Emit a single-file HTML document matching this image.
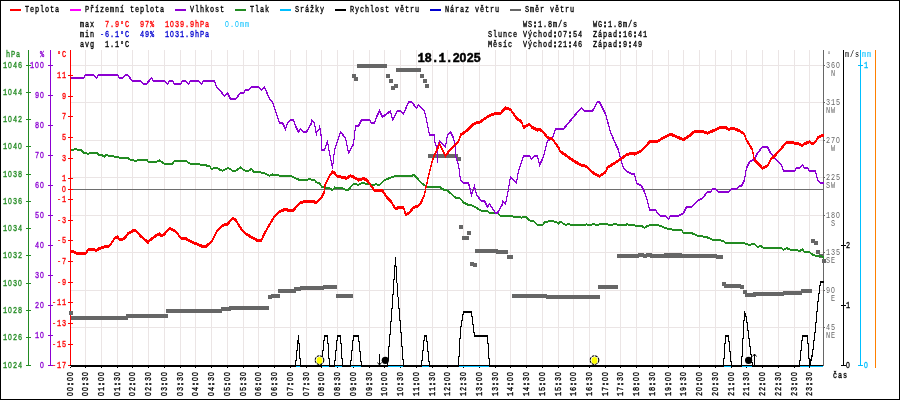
<!DOCTYPE html>
<html><head><meta charset="utf-8"><style>
html,body{margin:0;padding:0;background:#fff;}
svg{display:block;}
text{font-family:"Liberation Mono","DejaVu Sans Mono",monospace;}
</style></head><body>
<svg width="900" height="400" viewBox="0 0 900 400">
<rect x="0.5" y="0.5" width="899" height="399" fill="#fff" stroke="#000" stroke-width="1"/>
<rect x="85" y="50" width="1" height="315" fill="#ebe5e5"/>
<rect x="101" y="50" width="1" height="315" fill="#ebe5e5"/>
<rect x="117" y="50" width="1" height="315" fill="#ebe5e5"/>
<rect x="132" y="50" width="1" height="315" fill="#ebe5e5"/>
<rect x="148" y="50" width="1" height="315" fill="#ebe5e5"/>
<rect x="164" y="50" width="1" height="315" fill="#ebe5e5"/>
<rect x="180" y="50" width="1" height="315" fill="#ebe5e5"/>
<rect x="195" y="50" width="1" height="315" fill="#ebe5e5"/>
<rect x="211" y="50" width="1" height="315" fill="#ebe5e5"/>
<rect x="227" y="50" width="1" height="315" fill="#ebe5e5"/>
<rect x="243" y="50" width="1" height="315" fill="#ebe5e5"/>
<rect x="258" y="50" width="1" height="315" fill="#ebe5e5"/>
<rect x="274" y="50" width="1" height="315" fill="#ebe5e5"/>
<rect x="290" y="50" width="1" height="315" fill="#ebe5e5"/>
<rect x="306" y="50" width="1" height="315" fill="#ebe5e5"/>
<rect x="321" y="50" width="1" height="315" fill="#ebe5e5"/>
<rect x="337" y="50" width="1" height="315" fill="#ebe5e5"/>
<rect x="353" y="50" width="1" height="315" fill="#ebe5e5"/>
<rect x="369" y="50" width="1" height="315" fill="#ebe5e5"/>
<rect x="384" y="50" width="1" height="315" fill="#ebe5e5"/>
<rect x="400" y="50" width="1" height="315" fill="#ebe5e5"/>
<rect x="416" y="50" width="1" height="315" fill="#ebe5e5"/>
<rect x="432" y="50" width="1" height="315" fill="#ebe5e5"/>
<rect x="447" y="50" width="1" height="315" fill="#ebe5e5"/>
<rect x="463" y="50" width="1" height="315" fill="#ebe5e5"/>
<rect x="479" y="50" width="1" height="315" fill="#ebe5e5"/>
<rect x="495" y="50" width="1" height="315" fill="#ebe5e5"/>
<rect x="510" y="50" width="1" height="315" fill="#ebe5e5"/>
<rect x="526" y="50" width="1" height="315" fill="#ebe5e5"/>
<rect x="542" y="50" width="1" height="315" fill="#ebe5e5"/>
<rect x="558" y="50" width="1" height="315" fill="#ebe5e5"/>
<rect x="573" y="50" width="1" height="315" fill="#ebe5e5"/>
<rect x="589" y="50" width="1" height="315" fill="#ebe5e5"/>
<rect x="605" y="50" width="1" height="315" fill="#ebe5e5"/>
<rect x="620" y="50" width="1" height="315" fill="#ebe5e5"/>
<rect x="636" y="50" width="1" height="315" fill="#ebe5e5"/>
<rect x="652" y="50" width="1" height="315" fill="#ebe5e5"/>
<rect x="668" y="50" width="1" height="315" fill="#ebe5e5"/>
<rect x="683" y="50" width="1" height="315" fill="#ebe5e5"/>
<rect x="699" y="50" width="1" height="315" fill="#ebe5e5"/>
<rect x="715" y="50" width="1" height="315" fill="#ebe5e5"/>
<rect x="731" y="50" width="1" height="315" fill="#ebe5e5"/>
<rect x="746" y="50" width="1" height="315" fill="#ebe5e5"/>
<rect x="762" y="50" width="1" height="315" fill="#ebe5e5"/>
<rect x="778" y="50" width="1" height="315" fill="#ebe5e5"/>
<rect x="794" y="50" width="1" height="315" fill="#ebe5e5"/>
<rect x="809" y="50" width="1" height="315" fill="#ebe5e5"/>
<rect x="71" y="65" width="752" height="1" fill="#ebe5e5"/>
<rect x="71" y="102" width="752" height="1" fill="#ebe5e5"/>
<rect x="71" y="140" width="752" height="1" fill="#ebe5e5"/>
<rect x="71" y="177" width="752" height="1" fill="#ebe5e5"/>
<rect x="71" y="215" width="752" height="1" fill="#ebe5e5"/>
<rect x="71" y="252" width="752" height="1" fill="#ebe5e5"/>
<rect x="71" y="290" width="752" height="1" fill="#ebe5e5"/>
<rect x="71" y="327" width="752" height="1" fill="#ebe5e5"/>
<rect x="71" y="189" width="752" height="1" fill="#6e6e6e"/>
<rect x="10" y="9" width="11" height="2" fill="#ff0000"/>
<text transform="translate(25,12) scale(0.76,1)" x="0.00 6.58 13.16 19.74 26.32 32.89 39.47" y="0" fill="#000" stroke="#000" stroke-width="0.35" font-size="9">Teplota</text>
<rect x="70" y="9" width="11" height="2" fill="#ff00ff"/>
<text transform="translate(85,12) scale(0.76,1)" x="0.00 6.58 13.16 19.74 26.32 32.89 39.47 46.05 52.63 59.21 65.79 72.37 78.95 85.53 92.11 98.68" y="0" fill="#000" stroke="#000" stroke-width="0.35" font-size="9">Přízemní teplota</text>
<rect x="175" y="9" width="11" height="2" fill="#8c00d2"/>
<text transform="translate(190,12) scale(0.76,1)" x="0.00 6.58 13.16 19.74 26.32 32.89 39.47" y="0" fill="#000" stroke="#000" stroke-width="0.35" font-size="9">Vlhkost</text>
<rect x="235" y="9" width="11" height="2" fill="#228b22"/>
<text transform="translate(250,12) scale(0.76,1)" x="0.00 6.58 13.16 19.74" y="0" fill="#000" stroke="#000" stroke-width="0.35" font-size="9">Tlak</text>
<rect x="280" y="9" width="11" height="2" fill="#00bfff"/>
<text transform="translate(295,12) scale(0.76,1)" x="0.00 6.58 13.16 19.74 26.32 32.89" y="0" fill="#000" stroke="#000" stroke-width="0.35" font-size="9">Srážky</text>
<rect x="335" y="9" width="11" height="2" fill="#000"/>
<text transform="translate(350,12) scale(0.76,1)" x="0.00 6.58 13.16 19.74 26.32 32.89 39.47 46.05 52.63 59.21 65.79 72.37 78.95 85.53" y="0" fill="#000" stroke="#000" stroke-width="0.35" font-size="9">Rychlost větru</text>
<rect x="430" y="9" width="11" height="2" fill="#0000d0"/>
<text transform="translate(445,12) scale(0.76,1)" x="0.00 6.58 13.16 19.74 26.32 32.89 39.47 46.05 52.63 59.21 65.79" y="0" fill="#000" stroke="#000" stroke-width="0.35" font-size="9">Náraz větru</text>
<rect x="510" y="9" width="11" height="2" fill="#666666"/>
<text transform="translate(525,12) scale(0.76,1)" x="0.00 6.58 13.16 19.74 26.32 32.89 39.47 46.05 52.63 59.21" y="0" fill="#000" stroke="#000" stroke-width="0.35" font-size="9">Směr větru</text>
<text transform="translate(80,27) scale(0.76,1)" x="0.00 6.58 13.16" y="0" fill="#000" stroke="#000" stroke-width="0.35" font-size="9">max</text>
<text transform="translate(105,27) scale(0.76,1)" x="0.00 6.58 13.16 19.74 26.32" y="0" fill="#ff0000" stroke="#ff0000" stroke-width="0.35" font-size="9">7.9°C</text>
<text transform="translate(140,27) scale(0.76,1)" x="0.00 6.58 13.16" y="0" fill="#ff0000" stroke="#ff0000" stroke-width="0.35" font-size="9">97%</text>
<text transform="translate(165,27) scale(0.76,1)" x="0.00 6.58 13.16 19.74 26.32 32.89 39.47 46.05 52.63" y="0" fill="#ff0000" stroke="#ff0000" stroke-width="0.35" font-size="9">1<tspan font-family="Liberation Sans, sans-serif">0</tspan>39.9hPa</text>
<text transform="translate(225,27) scale(0.76,1)" x="0.00 6.58 13.16 19.74 26.32" y="0" fill="#00bfff" font-size="9" font-weight="normal"><tspan font-family="Liberation Sans, sans-serif">0</tspan>.<tspan font-family="Liberation Sans, sans-serif">0</tspan>mm</text>
<text transform="translate(80,37) scale(0.76,1)" x="0.00 6.58 13.16" y="0" fill="#000" stroke="#000" stroke-width="0.35" font-size="9">min</text>
<text transform="translate(100,37) scale(0.76,1)" x="0.00 6.58 13.16 19.74 26.32 32.89" y="0" fill="#0000d0" stroke="#0000d0" stroke-width="0.35" font-size="9">-6.1°C</text>
<text transform="translate(140,37) scale(0.76,1)" x="0.00 6.58 13.16" y="0" fill="#0000d0" stroke="#0000d0" stroke-width="0.35" font-size="9">49%</text>
<text transform="translate(165,37) scale(0.76,1)" x="0.00 6.58 13.16 19.74 26.32 32.89 39.47 46.05 52.63" y="0" fill="#0000d0" stroke="#0000d0" stroke-width="0.35" font-size="9">1<tspan font-family="Liberation Sans, sans-serif">0</tspan>31.9hPa</text>
<text transform="translate(80,47) scale(0.76,1)" x="0.00 6.58 13.16" y="0" fill="#000" stroke="#000" stroke-width="0.35" font-size="9">avg</text>
<text transform="translate(105,47) scale(0.76,1)" x="0.00 6.58 13.16 19.74 26.32" y="0" fill="#000" stroke="#000" stroke-width="0.35" font-size="9">1.1°C</text>
<text transform="translate(523,27) scale(0.76,1)" x="0.00 6.58 13.16 19.74 26.32 32.89 39.47 46.05 52.63" y="0" fill="#000" stroke="#000" stroke-width="0.35" font-size="9">WS<tspan font-weight="bold" stroke-width="0.9">:</tspan>1.8m/s</text>
<text transform="translate(593,27) scale(0.76,1)" x="0.00 6.58 13.16 19.74 26.32 32.89 39.47 46.05 52.63" y="0" fill="#000" stroke="#000" stroke-width="0.35" font-size="9">WG<tspan font-weight="bold" stroke-width="0.9">:</tspan>1.8m/s</text>
<text transform="translate(488,37) scale(0.76,1)" x="0.00 6.58 13.16 19.74 26.32 32.89" y="0" fill="#000" stroke="#000" stroke-width="0.35" font-size="9">Slunce</text>
<text transform="translate(523,37) scale(0.76,1)" x="0.00 6.58 13.16 19.74 26.32 32.89 39.47 46.05 52.63 59.21 65.79 72.37" y="0" fill="#000" stroke="#000" stroke-width="0.35" font-size="9">Východ<tspan font-weight="bold" stroke-width="0.9">:</tspan><tspan font-family="Liberation Sans, sans-serif">0</tspan>7<tspan font-weight="bold" stroke-width="0.9">:</tspan>54</text>
<text transform="translate(593,37) scale(0.76,1)" x="0.00 6.58 13.16 19.74 26.32 32.89 39.47 46.05 52.63 59.21 65.79" y="0" fill="#000" stroke="#000" stroke-width="0.35" font-size="9">Západ<tspan font-weight="bold" stroke-width="0.9">:</tspan>16<tspan font-weight="bold" stroke-width="0.9">:</tspan>41</text>
<text transform="translate(488,47) scale(0.76,1)" x="0.00 6.58 13.16 19.74 26.32" y="0" fill="#000" stroke="#000" stroke-width="0.35" font-size="9">Měsíc</text>
<text transform="translate(523,47) scale(0.76,1)" x="0.00 6.58 13.16 19.74 26.32 32.89 39.47 46.05 52.63 59.21 65.79 72.37" y="0" fill="#000" stroke="#000" stroke-width="0.35" font-size="9">Východ<tspan font-weight="bold" stroke-width="0.9">:</tspan>21<tspan font-weight="bold" stroke-width="0.9">:</tspan>46</text>
<text transform="translate(593,47) scale(0.76,1)" x="0.00 6.58 13.16 19.74 26.32 32.89 39.47 46.05 52.63 59.21" y="0" fill="#000" stroke="#000" stroke-width="0.35" font-size="9">Západ<tspan font-weight="bold" stroke-width="0.9">:</tspan>9<tspan font-weight="bold" stroke-width="0.9">:</tspan>49</text>
<text transform="translate(417.5,62) scale(0.95,1)" x="0.00 7.37 14.74 22.11 29.47 36.84 44.21 51.58 58.95" y="0" fill="#000" font-size="13" font-weight="bold" stroke="#000" stroke-width="0.5">18.1.2<tspan font-family="Liberation Sans, sans-serif">0</tspan>25</text>
<rect x="28" y="50" width="1" height="316" fill="#228b22"/>
<rect x="50" y="50" width="1" height="316" fill="#8c00d2"/>
<rect x="70" y="50" width="1" height="316" fill="#ff0000"/>
<text transform="translate(6,57) scale(0.76,1)" x="0.00 6.58 13.16" y="0" fill="#228b22" stroke="#228b22" stroke-width="0.35" font-size="9">hPa</text>
<text transform="translate(40,57) scale(0.76,1)" x="0.00" y="0" fill="#8c00d2" stroke="#8c00d2" stroke-width="0.35" font-size="9">%</text>
<text transform="translate(57,57) scale(0.76,1)" x="0.00 6.58" y="0" fill="#ff0000" stroke="#ff0000" stroke-width="0.35" font-size="9">°C</text>
<rect x="26" y="65" width="5" height="1" fill="#228b22"/>
<text transform="translate(3,68) scale(0.76,1)" x="0.00 6.58 13.16 19.74" y="0" fill="#228b22" stroke="#228b22" stroke-width="0.35" font-size="9">1<tspan font-family="Liberation Sans, sans-serif">0</tspan>46</text>
<rect x="26" y="92" width="5" height="1" fill="#228b22"/>
<text transform="translate(3,95) scale(0.76,1)" x="0.00 6.58 13.16 19.74" y="0" fill="#228b22" stroke="#228b22" stroke-width="0.35" font-size="9">1<tspan font-family="Liberation Sans, sans-serif">0</tspan>44</text>
<rect x="26" y="119" width="5" height="1" fill="#228b22"/>
<text transform="translate(3,122) scale(0.76,1)" x="0.00 6.58 13.16 19.74" y="0" fill="#228b22" stroke="#228b22" stroke-width="0.35" font-size="9">1<tspan font-family="Liberation Sans, sans-serif">0</tspan>42</text>
<rect x="26" y="146" width="5" height="1" fill="#228b22"/>
<text transform="translate(3,149) scale(0.76,1)" x="0.00 6.58 13.16 19.74" y="0" fill="#228b22" stroke="#228b22" stroke-width="0.35" font-size="9">1<tspan font-family="Liberation Sans, sans-serif">0</tspan>4<tspan font-family="Liberation Sans, sans-serif">0</tspan></text>
<rect x="26" y="174" width="5" height="1" fill="#228b22"/>
<text transform="translate(3,177) scale(0.76,1)" x="0.00 6.58 13.16 19.74" y="0" fill="#228b22" stroke="#228b22" stroke-width="0.35" font-size="9">1<tspan font-family="Liberation Sans, sans-serif">0</tspan>38</text>
<rect x="26" y="201" width="5" height="1" fill="#228b22"/>
<text transform="translate(3,204) scale(0.76,1)" x="0.00 6.58 13.16 19.74" y="0" fill="#228b22" stroke="#228b22" stroke-width="0.35" font-size="9">1<tspan font-family="Liberation Sans, sans-serif">0</tspan>36</text>
<rect x="26" y="228" width="5" height="1" fill="#228b22"/>
<text transform="translate(3,231) scale(0.76,1)" x="0.00 6.58 13.16 19.74" y="0" fill="#228b22" stroke="#228b22" stroke-width="0.35" font-size="9">1<tspan font-family="Liberation Sans, sans-serif">0</tspan>34</text>
<rect x="26" y="255" width="5" height="1" fill="#228b22"/>
<text transform="translate(3,258) scale(0.76,1)" x="0.00 6.58 13.16 19.74" y="0" fill="#228b22" stroke="#228b22" stroke-width="0.35" font-size="9">1<tspan font-family="Liberation Sans, sans-serif">0</tspan>32</text>
<rect x="26" y="283" width="5" height="1" fill="#228b22"/>
<text transform="translate(3,286) scale(0.76,1)" x="0.00 6.58 13.16 19.74" y="0" fill="#228b22" stroke="#228b22" stroke-width="0.35" font-size="9">1<tspan font-family="Liberation Sans, sans-serif">0</tspan>3<tspan font-family="Liberation Sans, sans-serif">0</tspan></text>
<rect x="26" y="310" width="5" height="1" fill="#228b22"/>
<text transform="translate(3,313) scale(0.76,1)" x="0.00 6.58 13.16 19.74" y="0" fill="#228b22" stroke="#228b22" stroke-width="0.35" font-size="9">1<tspan font-family="Liberation Sans, sans-serif">0</tspan>28</text>
<rect x="26" y="337" width="5" height="1" fill="#228b22"/>
<text transform="translate(3,340) scale(0.76,1)" x="0.00 6.58 13.16 19.74" y="0" fill="#228b22" stroke="#228b22" stroke-width="0.35" font-size="9">1<tspan font-family="Liberation Sans, sans-serif">0</tspan>26</text>
<rect x="26" y="365" width="5" height="1" fill="#228b22"/>
<text transform="translate(3,368) scale(0.76,1)" x="0.00 6.58 13.16 19.74" y="0" fill="#228b22" stroke="#228b22" stroke-width="0.35" font-size="9">1<tspan font-family="Liberation Sans, sans-serif">0</tspan>24</text>
<rect x="48" y="65" width="5" height="1" fill="#8c00d2"/>
<text transform="translate(30,68) scale(0.76,1)" x="0.00 6.58 13.16" y="0" fill="#8c00d2" stroke="#8c00d2" stroke-width="0.35" font-size="9">1<tspan font-family="Liberation Sans, sans-serif">0</tspan><tspan font-family="Liberation Sans, sans-serif">0</tspan></text>
<rect x="48" y="95" width="5" height="1" fill="#8c00d2"/>
<text transform="translate(35,98) scale(0.76,1)" x="0.00 6.58" y="0" fill="#8c00d2" stroke="#8c00d2" stroke-width="0.35" font-size="9">9<tspan font-family="Liberation Sans, sans-serif">0</tspan></text>
<rect x="48" y="125" width="5" height="1" fill="#8c00d2"/>
<text transform="translate(35,128) scale(0.76,1)" x="0.00 6.58" y="0" fill="#8c00d2" stroke="#8c00d2" stroke-width="0.35" font-size="9">8<tspan font-family="Liberation Sans, sans-serif">0</tspan></text>
<rect x="48" y="155" width="5" height="1" fill="#8c00d2"/>
<text transform="translate(35,158) scale(0.76,1)" x="0.00 6.58" y="0" fill="#8c00d2" stroke="#8c00d2" stroke-width="0.35" font-size="9">7<tspan font-family="Liberation Sans, sans-serif">0</tspan></text>
<rect x="48" y="185" width="5" height="1" fill="#8c00d2"/>
<text transform="translate(35,188) scale(0.76,1)" x="0.00 6.58" y="0" fill="#8c00d2" stroke="#8c00d2" stroke-width="0.35" font-size="9">6<tspan font-family="Liberation Sans, sans-serif">0</tspan></text>
<rect x="48" y="215" width="5" height="1" fill="#8c00d2"/>
<text transform="translate(35,218) scale(0.76,1)" x="0.00 6.58" y="0" fill="#8c00d2" stroke="#8c00d2" stroke-width="0.35" font-size="9">5<tspan font-family="Liberation Sans, sans-serif">0</tspan></text>
<rect x="48" y="245" width="5" height="1" fill="#8c00d2"/>
<text transform="translate(35,248) scale(0.76,1)" x="0.00 6.58" y="0" fill="#8c00d2" stroke="#8c00d2" stroke-width="0.35" font-size="9">4<tspan font-family="Liberation Sans, sans-serif">0</tspan></text>
<rect x="48" y="275" width="5" height="1" fill="#8c00d2"/>
<text transform="translate(35,278) scale(0.76,1)" x="0.00 6.58" y="0" fill="#8c00d2" stroke="#8c00d2" stroke-width="0.35" font-size="9">3<tspan font-family="Liberation Sans, sans-serif">0</tspan></text>
<rect x="48" y="305" width="5" height="1" fill="#8c00d2"/>
<text transform="translate(35,308) scale(0.76,1)" x="0.00 6.58" y="0" fill="#8c00d2" stroke="#8c00d2" stroke-width="0.35" font-size="9">2<tspan font-family="Liberation Sans, sans-serif">0</tspan></text>
<rect x="48" y="335" width="5" height="1" fill="#8c00d2"/>
<text transform="translate(35,338) scale(0.76,1)" x="0.00 6.58" y="0" fill="#8c00d2" stroke="#8c00d2" stroke-width="0.35" font-size="9">1<tspan font-family="Liberation Sans, sans-serif">0</tspan></text>
<rect x="48" y="365" width="5" height="1" fill="#8c00d2"/>
<text transform="translate(40,368) scale(0.76,1)" x="0.00" y="0" fill="#8c00d2" stroke="#8c00d2" stroke-width="0.35" font-size="9"><tspan font-family="Liberation Sans, sans-serif">0</tspan></text>
<rect x="68" y="75" width="5" height="1" fill="#ff0000"/>
<text transform="translate(57,78) scale(0.76,1)" x="0.00 6.58" y="0" fill="#ff0000" stroke="#ff0000" stroke-width="0.35" font-size="9">11</text>
<rect x="68" y="96" width="5" height="1" fill="#ff0000"/>
<text transform="translate(62,99) scale(0.76,1)" x="0.00" y="0" fill="#ff0000" stroke="#ff0000" stroke-width="0.35" font-size="9">9</text>
<rect x="68" y="116" width="5" height="1" fill="#ff0000"/>
<text transform="translate(62,119) scale(0.76,1)" x="0.00" y="0" fill="#ff0000" stroke="#ff0000" stroke-width="0.35" font-size="9">7</text>
<rect x="68" y="137" width="5" height="1" fill="#ff0000"/>
<text transform="translate(62,140) scale(0.76,1)" x="0.00" y="0" fill="#ff0000" stroke="#ff0000" stroke-width="0.35" font-size="9">5</text>
<rect x="68" y="158" width="5" height="1" fill="#ff0000"/>
<text transform="translate(62,161) scale(0.76,1)" x="0.00" y="0" fill="#ff0000" stroke="#ff0000" stroke-width="0.35" font-size="9">3</text>
<rect x="68" y="178" width="5" height="1" fill="#ff0000"/>
<text transform="translate(62,181) scale(0.76,1)" x="0.00" y="0" fill="#ff0000" stroke="#ff0000" stroke-width="0.35" font-size="9">1</text>
<rect x="68" y="189" width="5" height="1" fill="#ff0000"/>
<text transform="translate(62,192) scale(0.76,1)" x="0.00" y="0" fill="#ff0000" stroke="#ff0000" stroke-width="0.35" font-size="9"><tspan font-family="Liberation Sans, sans-serif">0</tspan></text>
<rect x="68" y="199" width="5" height="1" fill="#ff0000"/>
<text transform="translate(57,202) scale(0.76,1)" x="0.00 6.58" y="0" fill="#ff0000" stroke="#ff0000" stroke-width="0.35" font-size="9">-1</text>
<rect x="68" y="220" width="5" height="1" fill="#ff0000"/>
<text transform="translate(57,223) scale(0.76,1)" x="0.00 6.58" y="0" fill="#ff0000" stroke="#ff0000" stroke-width="0.35" font-size="9">-3</text>
<rect x="68" y="240" width="5" height="1" fill="#ff0000"/>
<text transform="translate(57,243) scale(0.76,1)" x="0.00 6.58" y="0" fill="#ff0000" stroke="#ff0000" stroke-width="0.35" font-size="9">-5</text>
<rect x="68" y="261" width="5" height="1" fill="#ff0000"/>
<text transform="translate(57,264) scale(0.76,1)" x="0.00 6.58" y="0" fill="#ff0000" stroke="#ff0000" stroke-width="0.35" font-size="9">-7</text>
<rect x="68" y="282" width="5" height="1" fill="#ff0000"/>
<text transform="translate(57,285) scale(0.76,1)" x="0.00 6.58" y="0" fill="#ff0000" stroke="#ff0000" stroke-width="0.35" font-size="9">-9</text>
<rect x="68" y="302" width="5" height="1" fill="#ff0000"/>
<text transform="translate(52,305) scale(0.76,1)" x="0.00 6.58 13.16" y="0" fill="#ff0000" stroke="#ff0000" stroke-width="0.35" font-size="9">-11</text>
<rect x="68" y="323" width="5" height="1" fill="#ff0000"/>
<text transform="translate(52,326) scale(0.76,1)" x="0.00 6.58 13.16" y="0" fill="#ff0000" stroke="#ff0000" stroke-width="0.35" font-size="9">-13</text>
<rect x="68" y="344" width="5" height="1" fill="#ff0000"/>
<text transform="translate(52,347) scale(0.76,1)" x="0.00 6.58 13.16" y="0" fill="#ff0000" stroke="#ff0000" stroke-width="0.35" font-size="9">-15</text>
<rect x="68" y="365" width="5" height="1" fill="#ff0000"/>
<text transform="translate(52,368) scale(0.76,1)" x="0.00 6.58 13.16" y="0" fill="#ff0000" stroke="#ff0000" stroke-width="0.35" font-size="9">-17</text>
<rect x="823" y="50" width="1" height="316" fill="#666666"/>
<rect x="843" y="50" width="1" height="316" fill="#000"/>
<rect x="860" y="50" width="1" height="316" fill="#00bfff"/>
<rect x="875" y="50" width="1" height="318" fill="#ff8000"/>
<text transform="translate(827,57) scale(0.76,1)" x="0.00" y="0" fill="#666666" font-size="9" font-weight="normal">°</text>
<rect x="824" y="65" width="1" height="1" fill="#666666"/>
<text transform="translate(826,68) scale(0.76,1)" x="0.00 6.58 13.16" y="0" fill="#666666" font-size="9" font-weight="normal">36<tspan font-family="Liberation Sans, sans-serif">0</tspan></text>
<text transform="translate(831,76) scale(0.76,1)" x="0.00" y="0" fill="#666666" font-size="9" font-weight="normal">N</text>
<rect x="824" y="102" width="1" height="1" fill="#666666"/>
<text transform="translate(826,105) scale(0.76,1)" x="0.00 6.58 13.16" y="0" fill="#666666" font-size="9" font-weight="normal">315</text>
<text transform="translate(826,113) scale(0.76,1)" x="0.00 6.58" y="0" fill="#666666" font-size="9" font-weight="normal">NW</text>
<rect x="824" y="140" width="1" height="1" fill="#666666"/>
<text transform="translate(826,143) scale(0.76,1)" x="0.00 6.58 13.16" y="0" fill="#666666" font-size="9" font-weight="normal">27<tspan font-family="Liberation Sans, sans-serif">0</tspan></text>
<text transform="translate(831,151) scale(0.76,1)" x="0.00" y="0" fill="#666666" font-size="9" font-weight="normal">W</text>
<rect x="824" y="177" width="1" height="1" fill="#666666"/>
<text transform="translate(826,180) scale(0.76,1)" x="0.00 6.58 13.16" y="0" fill="#666666" font-size="9" font-weight="normal">225</text>
<text transform="translate(826,188) scale(0.76,1)" x="0.00 6.58" y="0" fill="#666666" font-size="9" font-weight="normal">SW</text>
<rect x="824" y="215" width="1" height="1" fill="#666666"/>
<text transform="translate(826,218) scale(0.76,1)" x="0.00 6.58 13.16" y="0" fill="#666666" font-size="9" font-weight="normal">18<tspan font-family="Liberation Sans, sans-serif">0</tspan></text>
<text transform="translate(831,226) scale(0.76,1)" x="0.00" y="0" fill="#666666" font-size="9" font-weight="normal">S</text>
<rect x="824" y="252" width="1" height="1" fill="#666666"/>
<text transform="translate(826,255) scale(0.76,1)" x="0.00 6.58 13.16" y="0" fill="#666666" font-size="9" font-weight="normal">135</text>
<text transform="translate(826,263) scale(0.76,1)" x="0.00 6.58" y="0" fill="#666666" font-size="9" font-weight="normal">SE</text>
<rect x="824" y="290" width="1" height="1" fill="#666666"/>
<text transform="translate(826,293) scale(0.76,1)" x="0.00 6.58" y="0" fill="#666666" font-size="9" font-weight="normal">9<tspan font-family="Liberation Sans, sans-serif">0</tspan></text>
<text transform="translate(831,301) scale(0.76,1)" x="0.00" y="0" fill="#666666" font-size="9" font-weight="normal">E</text>
<rect x="824" y="327" width="1" height="1" fill="#666666"/>
<text transform="translate(826,330) scale(0.76,1)" x="0.00 6.58" y="0" fill="#666666" font-size="9" font-weight="normal">45</text>
<text transform="translate(826,338) scale(0.76,1)" x="0.00 6.58" y="0" fill="#666666" font-size="9" font-weight="normal">NE</text>
<text transform="translate(845,57) scale(0.76,1)" x="0.00 6.58 13.16" y="0" fill="#000" font-size="9" font-weight="normal">m/s</text>
<text transform="translate(862,57) scale(0.76,1)" x="0.00 6.58" y="0" fill="#00bfff" font-size="9" font-weight="normal">mm</text>
<rect x="841" y="245" width="5" height="1" fill="#000"/>
<text transform="translate(846,248) scale(0.76,1)" x="0.00" y="0" fill="#000" stroke="#000" stroke-width="0.35" font-size="9">2</text>
<rect x="841" y="305" width="5" height="1" fill="#000"/>
<text transform="translate(846,308) scale(0.76,1)" x="0.00" y="0" fill="#000" stroke="#000" stroke-width="0.35" font-size="9">1</text>
<rect x="841" y="365" width="5" height="1" fill="#000"/>
<text transform="translate(846,368) scale(0.76,1)" x="0.00" y="0" fill="#000" stroke="#000" stroke-width="0.35" font-size="9"><tspan font-family="Liberation Sans, sans-serif">0</tspan></text>
<rect x="858" y="65" width="5" height="1" fill="#00bfff"/>
<text transform="translate(864,68) scale(0.76,1)" x="0.00" y="0" fill="#00bfff" stroke="#00bfff" stroke-width="0.35" font-size="9">1</text>
<rect x="858" y="365" width="5" height="1" fill="#00bfff"/>
<text transform="translate(864,368) scale(0.76,1)" x="0.00" y="0" fill="#00bfff" stroke="#00bfff" stroke-width="0.35" font-size="9"><tspan font-family="Liberation Sans, sans-serif">0</tspan></text>
<text transform="translate(833,377.5) scale(0.76,1)" x="0.00 6.58 13.16" y="0" fill="#000" stroke="#000" stroke-width="0.35" font-size="9">čas</text>
<text transform="translate(73,396) rotate(-90) scale(0.76,1)" x="0.00 6.58 13.16 19.74 26.32" y="0" fill="#000" stroke="#000" stroke-width="0.35" font-size="9"><tspan font-family="Liberation Sans, sans-serif">0</tspan><tspan font-family="Liberation Sans, sans-serif">0</tspan><tspan font-weight="bold" stroke-width="0.9">:</tspan><tspan font-family="Liberation Sans, sans-serif">0</tspan><tspan font-family="Liberation Sans, sans-serif">0</tspan></text>
<rect x="70" y="367" width="1" height="1" fill="#000"/>
<text transform="translate(88,396) rotate(-90) scale(0.76,1)" x="0.00 6.58 13.16 19.74 26.32" y="0" fill="#000" stroke="#000" stroke-width="0.35" font-size="9"><tspan font-family="Liberation Sans, sans-serif">0</tspan><tspan font-family="Liberation Sans, sans-serif">0</tspan><tspan font-weight="bold" stroke-width="0.9">:</tspan>3<tspan font-family="Liberation Sans, sans-serif">0</tspan></text>
<rect x="85" y="367" width="1" height="1" fill="#000"/>
<text transform="translate(104,396) rotate(-90) scale(0.76,1)" x="0.00 6.58 13.16 19.74 26.32" y="0" fill="#000" stroke="#000" stroke-width="0.35" font-size="9"><tspan font-family="Liberation Sans, sans-serif">0</tspan>1<tspan font-weight="bold" stroke-width="0.9">:</tspan><tspan font-family="Liberation Sans, sans-serif">0</tspan><tspan font-family="Liberation Sans, sans-serif">0</tspan></text>
<rect x="101" y="367" width="1" height="1" fill="#000"/>
<text transform="translate(120,396) rotate(-90) scale(0.76,1)" x="0.00 6.58 13.16 19.74 26.32" y="0" fill="#000" stroke="#000" stroke-width="0.35" font-size="9"><tspan font-family="Liberation Sans, sans-serif">0</tspan>1<tspan font-weight="bold" stroke-width="0.9">:</tspan>3<tspan font-family="Liberation Sans, sans-serif">0</tspan></text>
<rect x="117" y="367" width="1" height="1" fill="#000"/>
<text transform="translate(135,396) rotate(-90) scale(0.76,1)" x="0.00 6.58 13.16 19.74 26.32" y="0" fill="#000" stroke="#000" stroke-width="0.35" font-size="9"><tspan font-family="Liberation Sans, sans-serif">0</tspan>2<tspan font-weight="bold" stroke-width="0.9">:</tspan><tspan font-family="Liberation Sans, sans-serif">0</tspan><tspan font-family="Liberation Sans, sans-serif">0</tspan></text>
<rect x="132" y="367" width="1" height="1" fill="#000"/>
<text transform="translate(151,396) rotate(-90) scale(0.76,1)" x="0.00 6.58 13.16 19.74 26.32" y="0" fill="#000" stroke="#000" stroke-width="0.35" font-size="9"><tspan font-family="Liberation Sans, sans-serif">0</tspan>2<tspan font-weight="bold" stroke-width="0.9">:</tspan>3<tspan font-family="Liberation Sans, sans-serif">0</tspan></text>
<rect x="148" y="367" width="1" height="1" fill="#000"/>
<text transform="translate(167,396) rotate(-90) scale(0.76,1)" x="0.00 6.58 13.16 19.74 26.32" y="0" fill="#000" stroke="#000" stroke-width="0.35" font-size="9"><tspan font-family="Liberation Sans, sans-serif">0</tspan>3<tspan font-weight="bold" stroke-width="0.9">:</tspan><tspan font-family="Liberation Sans, sans-serif">0</tspan><tspan font-family="Liberation Sans, sans-serif">0</tspan></text>
<rect x="164" y="367" width="1" height="1" fill="#000"/>
<text transform="translate(183,396) rotate(-90) scale(0.76,1)" x="0.00 6.58 13.16 19.74 26.32" y="0" fill="#000" stroke="#000" stroke-width="0.35" font-size="9"><tspan font-family="Liberation Sans, sans-serif">0</tspan>3<tspan font-weight="bold" stroke-width="0.9">:</tspan>3<tspan font-family="Liberation Sans, sans-serif">0</tspan></text>
<rect x="180" y="367" width="1" height="1" fill="#000"/>
<text transform="translate(198,396) rotate(-90) scale(0.76,1)" x="0.00 6.58 13.16 19.74 26.32" y="0" fill="#000" stroke="#000" stroke-width="0.35" font-size="9"><tspan font-family="Liberation Sans, sans-serif">0</tspan>4<tspan font-weight="bold" stroke-width="0.9">:</tspan><tspan font-family="Liberation Sans, sans-serif">0</tspan><tspan font-family="Liberation Sans, sans-serif">0</tspan></text>
<rect x="195" y="367" width="1" height="1" fill="#000"/>
<text transform="translate(214,396) rotate(-90) scale(0.76,1)" x="0.00 6.58 13.16 19.74 26.32" y="0" fill="#000" stroke="#000" stroke-width="0.35" font-size="9"><tspan font-family="Liberation Sans, sans-serif">0</tspan>4<tspan font-weight="bold" stroke-width="0.9">:</tspan>3<tspan font-family="Liberation Sans, sans-serif">0</tspan></text>
<rect x="211" y="367" width="1" height="1" fill="#000"/>
<text transform="translate(230,396) rotate(-90) scale(0.76,1)" x="0.00 6.58 13.16 19.74 26.32" y="0" fill="#000" stroke="#000" stroke-width="0.35" font-size="9"><tspan font-family="Liberation Sans, sans-serif">0</tspan>5<tspan font-weight="bold" stroke-width="0.9">:</tspan><tspan font-family="Liberation Sans, sans-serif">0</tspan><tspan font-family="Liberation Sans, sans-serif">0</tspan></text>
<rect x="227" y="367" width="1" height="1" fill="#000"/>
<text transform="translate(246,396) rotate(-90) scale(0.76,1)" x="0.00 6.58 13.16 19.74 26.32" y="0" fill="#000" stroke="#000" stroke-width="0.35" font-size="9"><tspan font-family="Liberation Sans, sans-serif">0</tspan>5<tspan font-weight="bold" stroke-width="0.9">:</tspan>3<tspan font-family="Liberation Sans, sans-serif">0</tspan></text>
<rect x="243" y="367" width="1" height="1" fill="#000"/>
<text transform="translate(261,396) rotate(-90) scale(0.76,1)" x="0.00 6.58 13.16 19.74 26.32" y="0" fill="#000" stroke="#000" stroke-width="0.35" font-size="9"><tspan font-family="Liberation Sans, sans-serif">0</tspan>6<tspan font-weight="bold" stroke-width="0.9">:</tspan><tspan font-family="Liberation Sans, sans-serif">0</tspan><tspan font-family="Liberation Sans, sans-serif">0</tspan></text>
<rect x="258" y="367" width="1" height="1" fill="#000"/>
<text transform="translate(277,396) rotate(-90) scale(0.76,1)" x="0.00 6.58 13.16 19.74 26.32" y="0" fill="#000" stroke="#000" stroke-width="0.35" font-size="9"><tspan font-family="Liberation Sans, sans-serif">0</tspan>6<tspan font-weight="bold" stroke-width="0.9">:</tspan>3<tspan font-family="Liberation Sans, sans-serif">0</tspan></text>
<rect x="274" y="367" width="1" height="1" fill="#000"/>
<text transform="translate(293,396) rotate(-90) scale(0.76,1)" x="0.00 6.58 13.16 19.74 26.32" y="0" fill="#000" stroke="#000" stroke-width="0.35" font-size="9"><tspan font-family="Liberation Sans, sans-serif">0</tspan>7<tspan font-weight="bold" stroke-width="0.9">:</tspan><tspan font-family="Liberation Sans, sans-serif">0</tspan><tspan font-family="Liberation Sans, sans-serif">0</tspan></text>
<rect x="290" y="367" width="1" height="1" fill="#000"/>
<text transform="translate(309,396) rotate(-90) scale(0.76,1)" x="0.00 6.58 13.16 19.74 26.32" y="0" fill="#000" stroke="#000" stroke-width="0.35" font-size="9"><tspan font-family="Liberation Sans, sans-serif">0</tspan>7<tspan font-weight="bold" stroke-width="0.9">:</tspan>3<tspan font-family="Liberation Sans, sans-serif">0</tspan></text>
<rect x="306" y="367" width="1" height="1" fill="#000"/>
<text transform="translate(324,396) rotate(-90) scale(0.76,1)" x="0.00 6.58 13.16 19.74 26.32" y="0" fill="#000" stroke="#000" stroke-width="0.35" font-size="9"><tspan font-family="Liberation Sans, sans-serif">0</tspan>8<tspan font-weight="bold" stroke-width="0.9">:</tspan><tspan font-family="Liberation Sans, sans-serif">0</tspan><tspan font-family="Liberation Sans, sans-serif">0</tspan></text>
<rect x="321" y="367" width="1" height="1" fill="#000"/>
<text transform="translate(340,396) rotate(-90) scale(0.76,1)" x="0.00 6.58 13.16 19.74 26.32" y="0" fill="#000" stroke="#000" stroke-width="0.35" font-size="9"><tspan font-family="Liberation Sans, sans-serif">0</tspan>8<tspan font-weight="bold" stroke-width="0.9">:</tspan>3<tspan font-family="Liberation Sans, sans-serif">0</tspan></text>
<rect x="337" y="367" width="1" height="1" fill="#000"/>
<text transform="translate(356,396) rotate(-90) scale(0.76,1)" x="0.00 6.58 13.16 19.74 26.32" y="0" fill="#000" stroke="#000" stroke-width="0.35" font-size="9"><tspan font-family="Liberation Sans, sans-serif">0</tspan>9<tspan font-weight="bold" stroke-width="0.9">:</tspan><tspan font-family="Liberation Sans, sans-serif">0</tspan><tspan font-family="Liberation Sans, sans-serif">0</tspan></text>
<rect x="353" y="367" width="1" height="1" fill="#000"/>
<text transform="translate(372,396) rotate(-90) scale(0.76,1)" x="0.00 6.58 13.16 19.74 26.32" y="0" fill="#000" stroke="#000" stroke-width="0.35" font-size="9"><tspan font-family="Liberation Sans, sans-serif">0</tspan>9<tspan font-weight="bold" stroke-width="0.9">:</tspan>3<tspan font-family="Liberation Sans, sans-serif">0</tspan></text>
<rect x="369" y="367" width="1" height="1" fill="#000"/>
<text transform="translate(387,396) rotate(-90) scale(0.76,1)" x="0.00 6.58 13.16 19.74 26.32" y="0" fill="#000" stroke="#000" stroke-width="0.35" font-size="9">1<tspan font-family="Liberation Sans, sans-serif">0</tspan><tspan font-weight="bold" stroke-width="0.9">:</tspan><tspan font-family="Liberation Sans, sans-serif">0</tspan><tspan font-family="Liberation Sans, sans-serif">0</tspan></text>
<rect x="384" y="367" width="1" height="1" fill="#000"/>
<text transform="translate(403,396) rotate(-90) scale(0.76,1)" x="0.00 6.58 13.16 19.74 26.32" y="0" fill="#000" stroke="#000" stroke-width="0.35" font-size="9">1<tspan font-family="Liberation Sans, sans-serif">0</tspan><tspan font-weight="bold" stroke-width="0.9">:</tspan>3<tspan font-family="Liberation Sans, sans-serif">0</tspan></text>
<rect x="400" y="367" width="1" height="1" fill="#000"/>
<text transform="translate(419,396) rotate(-90) scale(0.76,1)" x="0.00 6.58 13.16 19.74 26.32" y="0" fill="#000" stroke="#000" stroke-width="0.35" font-size="9">11<tspan font-weight="bold" stroke-width="0.9">:</tspan><tspan font-family="Liberation Sans, sans-serif">0</tspan><tspan font-family="Liberation Sans, sans-serif">0</tspan></text>
<rect x="416" y="367" width="1" height="1" fill="#000"/>
<text transform="translate(435,396) rotate(-90) scale(0.76,1)" x="0.00 6.58 13.16 19.74 26.32" y="0" fill="#000" stroke="#000" stroke-width="0.35" font-size="9">11<tspan font-weight="bold" stroke-width="0.9">:</tspan>3<tspan font-family="Liberation Sans, sans-serif">0</tspan></text>
<rect x="432" y="367" width="1" height="1" fill="#000"/>
<text transform="translate(450,396) rotate(-90) scale(0.76,1)" x="0.00 6.58 13.16 19.74 26.32" y="0" fill="#000" stroke="#000" stroke-width="0.35" font-size="9">12<tspan font-weight="bold" stroke-width="0.9">:</tspan><tspan font-family="Liberation Sans, sans-serif">0</tspan><tspan font-family="Liberation Sans, sans-serif">0</tspan></text>
<rect x="447" y="367" width="1" height="1" fill="#000"/>
<text transform="translate(466,396) rotate(-90) scale(0.76,1)" x="0.00 6.58 13.16 19.74 26.32" y="0" fill="#000" stroke="#000" stroke-width="0.35" font-size="9">12<tspan font-weight="bold" stroke-width="0.9">:</tspan>3<tspan font-family="Liberation Sans, sans-serif">0</tspan></text>
<rect x="463" y="367" width="1" height="1" fill="#000"/>
<text transform="translate(482,396) rotate(-90) scale(0.76,1)" x="0.00 6.58 13.16 19.74 26.32" y="0" fill="#000" stroke="#000" stroke-width="0.35" font-size="9">13<tspan font-weight="bold" stroke-width="0.9">:</tspan><tspan font-family="Liberation Sans, sans-serif">0</tspan><tspan font-family="Liberation Sans, sans-serif">0</tspan></text>
<rect x="479" y="367" width="1" height="1" fill="#000"/>
<text transform="translate(498,396) rotate(-90) scale(0.76,1)" x="0.00 6.58 13.16 19.74 26.32" y="0" fill="#000" stroke="#000" stroke-width="0.35" font-size="9">13<tspan font-weight="bold" stroke-width="0.9">:</tspan>3<tspan font-family="Liberation Sans, sans-serif">0</tspan></text>
<rect x="495" y="367" width="1" height="1" fill="#000"/>
<text transform="translate(513,396) rotate(-90) scale(0.76,1)" x="0.00 6.58 13.16 19.74 26.32" y="0" fill="#000" stroke="#000" stroke-width="0.35" font-size="9">14<tspan font-weight="bold" stroke-width="0.9">:</tspan><tspan font-family="Liberation Sans, sans-serif">0</tspan><tspan font-family="Liberation Sans, sans-serif">0</tspan></text>
<rect x="510" y="367" width="1" height="1" fill="#000"/>
<text transform="translate(529,396) rotate(-90) scale(0.76,1)" x="0.00 6.58 13.16 19.74 26.32" y="0" fill="#000" stroke="#000" stroke-width="0.35" font-size="9">14<tspan font-weight="bold" stroke-width="0.9">:</tspan>3<tspan font-family="Liberation Sans, sans-serif">0</tspan></text>
<rect x="526" y="367" width="1" height="1" fill="#000"/>
<text transform="translate(545,396) rotate(-90) scale(0.76,1)" x="0.00 6.58 13.16 19.74 26.32" y="0" fill="#000" stroke="#000" stroke-width="0.35" font-size="9">15<tspan font-weight="bold" stroke-width="0.9">:</tspan><tspan font-family="Liberation Sans, sans-serif">0</tspan><tspan font-family="Liberation Sans, sans-serif">0</tspan></text>
<rect x="542" y="367" width="1" height="1" fill="#000"/>
<text transform="translate(561,396) rotate(-90) scale(0.76,1)" x="0.00 6.58 13.16 19.74 26.32" y="0" fill="#000" stroke="#000" stroke-width="0.35" font-size="9">15<tspan font-weight="bold" stroke-width="0.9">:</tspan>3<tspan font-family="Liberation Sans, sans-serif">0</tspan></text>
<rect x="558" y="367" width="1" height="1" fill="#000"/>
<text transform="translate(576,396) rotate(-90) scale(0.76,1)" x="0.00 6.58 13.16 19.74 26.32" y="0" fill="#000" stroke="#000" stroke-width="0.35" font-size="9">16<tspan font-weight="bold" stroke-width="0.9">:</tspan><tspan font-family="Liberation Sans, sans-serif">0</tspan><tspan font-family="Liberation Sans, sans-serif">0</tspan></text>
<rect x="573" y="367" width="1" height="1" fill="#000"/>
<text transform="translate(592,396) rotate(-90) scale(0.76,1)" x="0.00 6.58 13.16 19.74 26.32" y="0" fill="#000" stroke="#000" stroke-width="0.35" font-size="9">16<tspan font-weight="bold" stroke-width="0.9">:</tspan>3<tspan font-family="Liberation Sans, sans-serif">0</tspan></text>
<rect x="589" y="367" width="1" height="1" fill="#000"/>
<text transform="translate(608,396) rotate(-90) scale(0.76,1)" x="0.00 6.58 13.16 19.74 26.32" y="0" fill="#000" stroke="#000" stroke-width="0.35" font-size="9">17<tspan font-weight="bold" stroke-width="0.9">:</tspan><tspan font-family="Liberation Sans, sans-serif">0</tspan><tspan font-family="Liberation Sans, sans-serif">0</tspan></text>
<rect x="605" y="367" width="1" height="1" fill="#000"/>
<text transform="translate(623,396) rotate(-90) scale(0.76,1)" x="0.00 6.58 13.16 19.74 26.32" y="0" fill="#000" stroke="#000" stroke-width="0.35" font-size="9">17<tspan font-weight="bold" stroke-width="0.9">:</tspan>3<tspan font-family="Liberation Sans, sans-serif">0</tspan></text>
<rect x="620" y="367" width="1" height="1" fill="#000"/>
<text transform="translate(639,396) rotate(-90) scale(0.76,1)" x="0.00 6.58 13.16 19.74 26.32" y="0" fill="#000" stroke="#000" stroke-width="0.35" font-size="9">18<tspan font-weight="bold" stroke-width="0.9">:</tspan><tspan font-family="Liberation Sans, sans-serif">0</tspan><tspan font-family="Liberation Sans, sans-serif">0</tspan></text>
<rect x="636" y="367" width="1" height="1" fill="#000"/>
<text transform="translate(655,396) rotate(-90) scale(0.76,1)" x="0.00 6.58 13.16 19.74 26.32" y="0" fill="#000" stroke="#000" stroke-width="0.35" font-size="9">18<tspan font-weight="bold" stroke-width="0.9">:</tspan>3<tspan font-family="Liberation Sans, sans-serif">0</tspan></text>
<rect x="652" y="367" width="1" height="1" fill="#000"/>
<text transform="translate(671,396) rotate(-90) scale(0.76,1)" x="0.00 6.58 13.16 19.74 26.32" y="0" fill="#000" stroke="#000" stroke-width="0.35" font-size="9">19<tspan font-weight="bold" stroke-width="0.9">:</tspan><tspan font-family="Liberation Sans, sans-serif">0</tspan><tspan font-family="Liberation Sans, sans-serif">0</tspan></text>
<rect x="668" y="367" width="1" height="1" fill="#000"/>
<text transform="translate(686,396) rotate(-90) scale(0.76,1)" x="0.00 6.58 13.16 19.74 26.32" y="0" fill="#000" stroke="#000" stroke-width="0.35" font-size="9">19<tspan font-weight="bold" stroke-width="0.9">:</tspan>3<tspan font-family="Liberation Sans, sans-serif">0</tspan></text>
<rect x="683" y="367" width="1" height="1" fill="#000"/>
<text transform="translate(702,396) rotate(-90) scale(0.76,1)" x="0.00 6.58 13.16 19.74 26.32" y="0" fill="#000" stroke="#000" stroke-width="0.35" font-size="9">2<tspan font-family="Liberation Sans, sans-serif">0</tspan><tspan font-weight="bold" stroke-width="0.9">:</tspan><tspan font-family="Liberation Sans, sans-serif">0</tspan><tspan font-family="Liberation Sans, sans-serif">0</tspan></text>
<rect x="699" y="367" width="1" height="1" fill="#000"/>
<text transform="translate(718,396) rotate(-90) scale(0.76,1)" x="0.00 6.58 13.16 19.74 26.32" y="0" fill="#000" stroke="#000" stroke-width="0.35" font-size="9">2<tspan font-family="Liberation Sans, sans-serif">0</tspan><tspan font-weight="bold" stroke-width="0.9">:</tspan>3<tspan font-family="Liberation Sans, sans-serif">0</tspan></text>
<rect x="715" y="367" width="1" height="1" fill="#000"/>
<text transform="translate(734,396) rotate(-90) scale(0.76,1)" x="0.00 6.58 13.16 19.74 26.32" y="0" fill="#000" stroke="#000" stroke-width="0.35" font-size="9">21<tspan font-weight="bold" stroke-width="0.9">:</tspan><tspan font-family="Liberation Sans, sans-serif">0</tspan><tspan font-family="Liberation Sans, sans-serif">0</tspan></text>
<rect x="731" y="367" width="1" height="1" fill="#000"/>
<text transform="translate(749,396) rotate(-90) scale(0.76,1)" x="0.00 6.58 13.16 19.74 26.32" y="0" fill="#000" stroke="#000" stroke-width="0.35" font-size="9">21<tspan font-weight="bold" stroke-width="0.9">:</tspan>3<tspan font-family="Liberation Sans, sans-serif">0</tspan></text>
<rect x="746" y="367" width="1" height="1" fill="#000"/>
<text transform="translate(765,396) rotate(-90) scale(0.76,1)" x="0.00 6.58 13.16 19.74 26.32" y="0" fill="#000" stroke="#000" stroke-width="0.35" font-size="9">22<tspan font-weight="bold" stroke-width="0.9">:</tspan><tspan font-family="Liberation Sans, sans-serif">0</tspan><tspan font-family="Liberation Sans, sans-serif">0</tspan></text>
<rect x="762" y="367" width="1" height="1" fill="#000"/>
<text transform="translate(781,396) rotate(-90) scale(0.76,1)" x="0.00 6.58 13.16 19.74 26.32" y="0" fill="#000" stroke="#000" stroke-width="0.35" font-size="9">22<tspan font-weight="bold" stroke-width="0.9">:</tspan>3<tspan font-family="Liberation Sans, sans-serif">0</tspan></text>
<rect x="778" y="367" width="1" height="1" fill="#000"/>
<text transform="translate(797,396) rotate(-90) scale(0.76,1)" x="0.00 6.58 13.16 19.74 26.32" y="0" fill="#000" stroke="#000" stroke-width="0.35" font-size="9">23<tspan font-weight="bold" stroke-width="0.9">:</tspan><tspan font-family="Liberation Sans, sans-serif">0</tspan><tspan font-family="Liberation Sans, sans-serif">0</tspan></text>
<rect x="794" y="367" width="1" height="1" fill="#000"/>
<text transform="translate(812,396) rotate(-90) scale(0.76,1)" x="0.00 6.58 13.16 19.74 26.32" y="0" fill="#000" stroke="#000" stroke-width="0.35" font-size="9">23<tspan font-weight="bold" stroke-width="0.9">:</tspan>3<tspan font-family="Liberation Sans, sans-serif">0</tspan></text>
<rect x="809" y="367" width="1" height="1" fill="#000"/>
<rect x="71" y="366" width="752" height="1" fill="#00bfff"/>
<rect x="69" y="311" width="4" height="4" fill="#666666"/>
<rect x="71" y="316" width="57" height="4" fill="#666666"/>
<rect x="126" y="314" width="42" height="4" fill="#666666"/>
<rect x="166" y="309" width="56" height="4" fill="#666666"/>
<rect x="221" y="307" width="10" height="4" fill="#666666"/>
<rect x="229" y="306" width="40" height="4" fill="#666666"/>
<rect x="268" y="295" width="4" height="4" fill="#666666"/>
<rect x="271" y="294" width="9" height="4" fill="#666666"/>
<rect x="278" y="289" width="18" height="4" fill="#666666"/>
<rect x="294" y="287" width="7" height="4" fill="#666666"/>
<rect x="300" y="286" width="24" height="4" fill="#666666"/>
<rect x="323" y="285" width="14" height="4" fill="#666666"/>
<rect x="336" y="294" width="17" height="4" fill="#666666"/>
<rect x="352" y="74" width="4" height="4" fill="#666666"/>
<rect x="354" y="77" width="4" height="4" fill="#666666"/>
<rect x="357" y="64" width="30" height="4" fill="#666666"/>
<rect x="386" y="74" width="4" height="4" fill="#666666"/>
<rect x="389" y="79" width="4" height="4" fill="#666666"/>
<rect x="391" y="86" width="4" height="4" fill="#666666"/>
<rect x="394" y="84" width="4" height="4" fill="#666666"/>
<rect x="396" y="68" width="25" height="4" fill="#666666"/>
<rect x="420" y="74" width="4" height="4" fill="#666666"/>
<rect x="423" y="79" width="4" height="4" fill="#666666"/>
<rect x="425" y="84" width="4" height="4" fill="#666666"/>
<rect x="428" y="154" width="30" height="4" fill="#666666"/>
<rect x="457" y="157" width="4" height="4" fill="#666666"/>
<rect x="459" y="225" width="4" height="4" fill="#666666"/>
<rect x="462" y="236" width="7" height="4" fill="#666666"/>
<rect x="467" y="231" width="4" height="4" fill="#666666"/>
<rect x="470" y="262" width="4" height="4" fill="#666666"/>
<rect x="473" y="263" width="4" height="4" fill="#666666"/>
<rect x="475" y="249" width="23" height="4" fill="#666666"/>
<rect x="496" y="250" width="12" height="4" fill="#666666"/>
<rect x="507" y="255" width="6" height="4" fill="#666666"/>
<rect x="512" y="294" width="35" height="4" fill="#666666"/>
<rect x="546" y="295" width="54" height="4" fill="#666666"/>
<rect x="598" y="285" width="20" height="4" fill="#666666"/>
<rect x="617" y="254" width="22" height="4" fill="#666666"/>
<rect x="638" y="253" width="6" height="4" fill="#666666"/>
<rect x="643" y="254" width="4" height="4" fill="#666666"/>
<rect x="646" y="253" width="6" height="4" fill="#666666"/>
<rect x="651" y="254" width="15" height="4" fill="#666666"/>
<rect x="664" y="253" width="18" height="4" fill="#666666"/>
<rect x="650" y="254" width="67" height="4" fill="#666666"/>
<rect x="716" y="255" width="7" height="4" fill="#666666"/>
<rect x="722" y="282" width="4" height="4" fill="#666666"/>
<rect x="724" y="284" width="17" height="4" fill="#666666"/>
<rect x="740" y="285" width="4" height="4" fill="#666666"/>
<rect x="743" y="290" width="4" height="4" fill="#666666"/>
<rect x="745" y="293" width="11" height="4" fill="#666666"/>
<rect x="753" y="292" width="31" height="4" fill="#666666"/>
<rect x="783" y="291" width="19" height="4" fill="#666666"/>
<rect x="801" y="289" width="11" height="4" fill="#666666"/>
<rect x="811" y="239" width="4" height="4" fill="#666666"/>
<rect x="814" y="241" width="4" height="4" fill="#666666"/>
<rect x="816" y="250" width="4" height="4" fill="#666666"/>
<rect x="819" y="254" width="4" height="4" fill="#666666"/>
<rect x="822" y="259" width="4" height="4" fill="#666666"/>
<polyline transform="translate(0,-0.5)" points="70.5,150.0 72.5,150.0 75.5,148.7 77.5,149.7 80.5,149.7 83.5,152.5 85.5,153.0 88.5,154.2 90.5,152.5 96.5,152.5 98.5,154.7 101.5,155.0 104.5,156.7 106.5,154.7 109.5,156.2 117.5,156.7 119.5,157.8 127.5,157.8 130.5,159.7 132.5,160.0 135.5,161.0 138.5,159.7 146.5,159.7 148.5,161.7 156.5,161.7 159.5,160.5 164.5,163.8 172.5,163.8 174.5,160.8 185.5,160.8 190.5,163.8 198.5,163.8 201.5,165.0 203.5,165.0 206.5,165.5 209.5,165.5 211.5,169.2 214.5,167.8 216.5,167.8 219.5,169.5 222.5,170.8 227.5,168.3 230.5,168.7 232.5,170.8 235.5,170.8 240.5,167.5 240.5,167.8 245.5,170.8 248.5,170.8 251.5,168.7 253.5,171.7 258.5,172.0 264.5,173.3 269.5,175.8 272.5,174.5 277.5,174.7 279.5,175.8 290.5,175.8 295.5,178.3 300.5,180.3 306.5,180.3 308.5,179.2 314.5,180.0 316.5,182.5 319.5,183.0 321.5,186.7 324.5,187.5 329.5,188.0 332.5,190.3 334.5,187.5 342.5,188.0 345.5,190.0 348.5,189.7 353.5,183.7 358.5,185.0 361.5,183.3 363.5,183.3 369.5,184.2 371.5,185.0 376.5,184.2 379.5,185.3 384.5,180.3 392.5,176.7 400.5,175.8 411.5,176.2 413.5,174.7 418.5,179.7 421.5,183.0 426.5,186.7 439.5,186.7 442.5,189.2 447.5,190.8 455.5,197.5 460.5,198.7 463.5,202.5 468.5,205.0 471.5,205.0 481.5,210.8 487.5,211.3 489.5,213.0 497.5,213.0 500.5,215.8 508.5,216.3 510.5,215.8 513.5,216.7 518.5,216.7 521.5,217.8 523.5,216.7 526.5,217.5 529.5,220.3 534.5,221.7 537.5,225.0 542.5,225.0 544.5,222.5 550.5,220.8 555.5,221.7 558.5,223.7 560.5,221.7 565.5,225.0 568.5,224.2 571.5,225.0 584.5,225.0 586.5,224.2 589.5,225.3 592.5,224.2 594.5,224.2 597.5,225.3 599.5,224.2 607.5,224.2 610.5,225.3 613.5,224.2 615.5,224.2 618.5,225.0 626.5,225.0 626.5,224.2 634.5,225.5 641.5,225.8 644.5,227.8 647.5,225.8 652.5,225.0 655.5,225.0 660.5,225.8 665.5,228.3 670.5,229.2 673.5,229.7 681.5,229.7 683.5,233.0 691.5,233.0 697.5,235.8 704.5,236.7 707.5,237.5 712.5,239.7 715.5,240.0 723.5,240.8 725.5,243.0 733.5,243.3 739.5,243.0 746.5,243.7 749.5,245.0 754.5,243.6 757.5,247.3 760.5,245.8 762.5,247.5 765.5,248.1 781.5,248.1 783.5,250.0 786.5,248.1 791.5,250.0 796.5,250.0 799.5,251.1 802.5,249.5 804.5,252.0 809.5,252.0 812.5,254.5 815.5,255.9 820.5,255.9 823.5,257.0 823.5,258.2" fill="none" stroke="#228b22" stroke-width="1" shape-rendering="crispEdges"/>
<polyline transform="translate(0,0.5)" points="70.5,150.0 72.5,150.0 75.5,148.7 77.5,149.7 80.5,149.7 83.5,152.5 85.5,153.0 88.5,154.2 90.5,152.5 96.5,152.5 98.5,154.7 101.5,155.0 104.5,156.7 106.5,154.7 109.5,156.2 117.5,156.7 119.5,157.8 127.5,157.8 130.5,159.7 132.5,160.0 135.5,161.0 138.5,159.7 146.5,159.7 148.5,161.7 156.5,161.7 159.5,160.5 164.5,163.8 172.5,163.8 174.5,160.8 185.5,160.8 190.5,163.8 198.5,163.8 201.5,165.0 203.5,165.0 206.5,165.5 209.5,165.5 211.5,169.2 214.5,167.8 216.5,167.8 219.5,169.5 222.5,170.8 227.5,168.3 230.5,168.7 232.5,170.8 235.5,170.8 240.5,167.5 240.5,167.8 245.5,170.8 248.5,170.8 251.5,168.7 253.5,171.7 258.5,172.0 264.5,173.3 269.5,175.8 272.5,174.5 277.5,174.7 279.5,175.8 290.5,175.8 295.5,178.3 300.5,180.3 306.5,180.3 308.5,179.2 314.5,180.0 316.5,182.5 319.5,183.0 321.5,186.7 324.5,187.5 329.5,188.0 332.5,190.3 334.5,187.5 342.5,188.0 345.5,190.0 348.5,189.7 353.5,183.7 358.5,185.0 361.5,183.3 363.5,183.3 369.5,184.2 371.5,185.0 376.5,184.2 379.5,185.3 384.5,180.3 392.5,176.7 400.5,175.8 411.5,176.2 413.5,174.7 418.5,179.7 421.5,183.0 426.5,186.7 439.5,186.7 442.5,189.2 447.5,190.8 455.5,197.5 460.5,198.7 463.5,202.5 468.5,205.0 471.5,205.0 481.5,210.8 487.5,211.3 489.5,213.0 497.5,213.0 500.5,215.8 508.5,216.3 510.5,215.8 513.5,216.7 518.5,216.7 521.5,217.8 523.5,216.7 526.5,217.5 529.5,220.3 534.5,221.7 537.5,225.0 542.5,225.0 544.5,222.5 550.5,220.8 555.5,221.7 558.5,223.7 560.5,221.7 565.5,225.0 568.5,224.2 571.5,225.0 584.5,225.0 586.5,224.2 589.5,225.3 592.5,224.2 594.5,224.2 597.5,225.3 599.5,224.2 607.5,224.2 610.5,225.3 613.5,224.2 615.5,224.2 618.5,225.0 626.5,225.0 626.5,224.2 634.5,225.5 641.5,225.8 644.5,227.8 647.5,225.8 652.5,225.0 655.5,225.0 660.5,225.8 665.5,228.3 670.5,229.2 673.5,229.7 681.5,229.7 683.5,233.0 691.5,233.0 697.5,235.8 704.5,236.7 707.5,237.5 712.5,239.7 715.5,240.0 723.5,240.8 725.5,243.0 733.5,243.3 739.5,243.0 746.5,243.7 749.5,245.0 754.5,243.6 757.5,247.3 760.5,245.8 762.5,247.5 765.5,248.1 781.5,248.1 783.5,250.0 786.5,248.1 791.5,250.0 796.5,250.0 799.5,251.1 802.5,249.5 804.5,252.0 809.5,252.0 812.5,254.5 815.5,255.9 820.5,255.9 823.5,257.0 823.5,258.2" fill="none" stroke="#228b22" stroke-width="1" shape-rendering="crispEdges"/>
<polyline transform="translate(0,-0.5)" points="70.5,78.0 83.5,78.0 85.5,75.0 93.5,75.0 96.5,78.0 98.5,75.0 117.5,75.0 119.5,78.0 122.5,78.0 125.5,75.0 127.5,75.0 132.5,81.0 140.5,81.0 143.5,84.0 146.5,84.0 151.5,78.0 153.5,81.0 164.5,81.0 167.5,84.0 169.5,81.0 172.5,81.0 174.5,84.0 180.5,84.0 182.5,81.0 185.5,81.0 188.5,84.0 190.5,81.0 198.5,81.0 201.5,84.0 203.5,81.0 214.5,81.0 216.5,87.0 219.5,90.0 224.5,96.0 227.5,93.0 230.5,99.0 235.5,99.0 240.5,93.0 243.5,93.0 245.5,90.0 248.5,90.0 251.5,87.0 258.5,87.0 261.5,90.0 264.5,87.0 269.5,99.0 272.5,102.0 274.5,108.0 279.5,123.0 282.5,123.0 285.5,129.0 287.5,123.0 290.5,120.0 293.5,120.0 295.5,126.0 298.5,132.0 300.5,129.0 303.5,132.0 306.5,132.0 311.5,123.0 311.5,120.0 314.5,123.0 316.5,135.0 316.5,132.0 319.5,129.0 319.5,126.0 321.5,138.0 321.5,150.0 324.5,150.0 327.5,141.0 329.5,153.0 332.5,168.0 334.5,150.0 340.5,132.0 345.5,138.0 348.5,153.0 353.5,144.0 355.5,126.0 358.5,126.0 361.5,120.0 369.5,120.0 371.5,123.0 374.5,123.0 376.5,117.0 379.5,111.0 382.5,117.0 390.5,111.0 392.5,120.0 397.5,111.0 400.5,111.0 403.5,114.0 408.5,102.0 411.5,102.0 416.5,108.0 418.5,105.0 424.5,111.0 426.5,120.0 429.5,135.0 434.5,135.0 434.5,141.0 437.5,150.0 437.5,162.0 437.5,147.0 439.5,141.0 445.5,147.0 447.5,135.0 450.5,132.0 453.5,138.0 455.5,147.0 455.5,156.0 458.5,165.0 460.5,180.0 463.5,183.0 468.5,183.0 471.5,195.0 474.5,186.0 476.5,195.0 481.5,201.0 484.5,201.0 487.5,207.0 489.5,204.0 495.5,213.0 497.5,213.0 502.5,204.0 502.5,201.0 505.5,204.0 508.5,189.0 510.5,177.0 516.5,183.0 518.5,171.0 521.5,162.0 523.5,156.0 529.5,156.0 531.5,159.0 534.5,156.0 537.5,156.0 539.5,165.0 542.5,159.0 544.5,153.0 547.5,141.0 552.5,138.0 555.5,129.0 563.5,129.0 573.5,117.0 578.5,111.0 581.5,108.0 584.5,111.0 592.5,111.0 597.5,102.0 599.5,102.0 605.5,114.0 610.5,132.0 615.5,144.0 618.5,150.0 620.5,159.0 623.5,168.0 626.5,171.0 631.5,174.0 634.5,174.0 636.5,183.0 641.5,186.0 644.5,192.0 647.5,201.0 649.5,210.0 655.5,210.0 657.5,213.0 660.5,216.0 665.5,216.0 668.5,219.0 670.5,216.0 678.5,216.0 683.5,213.0 686.5,207.0 691.5,207.0 697.5,201.0 702.5,198.0 707.5,192.0 710.5,192.0 712.5,189.0 715.5,189.0 718.5,192.0 728.5,192.0 731.5,189.0 736.5,189.0 739.5,186.0 741.5,186.0 744.5,180.0 746.5,168.0 749.5,162.0 754.5,159.0 757.5,153.0 762.5,147.0 767.5,147.0 770.5,153.0 775.5,159.0 781.5,165.0 783.5,171.0 794.5,171.0 796.5,168.0 799.5,168.0 802.5,165.0 804.5,168.0 807.5,168.0 809.5,171.0 815.5,171.0 817.5,180.0 820.5,183.0 823.5,183.0" fill="none" stroke="#8c00d2" stroke-width="1" shape-rendering="crispEdges"/>
<polyline transform="translate(0,0.5)" points="70.5,78.0 83.5,78.0 85.5,75.0 93.5,75.0 96.5,78.0 98.5,75.0 117.5,75.0 119.5,78.0 122.5,78.0 125.5,75.0 127.5,75.0 132.5,81.0 140.5,81.0 143.5,84.0 146.5,84.0 151.5,78.0 153.5,81.0 164.5,81.0 167.5,84.0 169.5,81.0 172.5,81.0 174.5,84.0 180.5,84.0 182.5,81.0 185.5,81.0 188.5,84.0 190.5,81.0 198.5,81.0 201.5,84.0 203.5,81.0 214.5,81.0 216.5,87.0 219.5,90.0 224.5,96.0 227.5,93.0 230.5,99.0 235.5,99.0 240.5,93.0 243.5,93.0 245.5,90.0 248.5,90.0 251.5,87.0 258.5,87.0 261.5,90.0 264.5,87.0 269.5,99.0 272.5,102.0 274.5,108.0 279.5,123.0 282.5,123.0 285.5,129.0 287.5,123.0 290.5,120.0 293.5,120.0 295.5,126.0 298.5,132.0 300.5,129.0 303.5,132.0 306.5,132.0 311.5,123.0 311.5,120.0 314.5,123.0 316.5,135.0 316.5,132.0 319.5,129.0 319.5,126.0 321.5,138.0 321.5,150.0 324.5,150.0 327.5,141.0 329.5,153.0 332.5,168.0 334.5,150.0 340.5,132.0 345.5,138.0 348.5,153.0 353.5,144.0 355.5,126.0 358.5,126.0 361.5,120.0 369.5,120.0 371.5,123.0 374.5,123.0 376.5,117.0 379.5,111.0 382.5,117.0 390.5,111.0 392.5,120.0 397.5,111.0 400.5,111.0 403.5,114.0 408.5,102.0 411.5,102.0 416.5,108.0 418.5,105.0 424.5,111.0 426.5,120.0 429.5,135.0 434.5,135.0 434.5,141.0 437.5,150.0 437.5,162.0 437.5,147.0 439.5,141.0 445.5,147.0 447.5,135.0 450.5,132.0 453.5,138.0 455.5,147.0 455.5,156.0 458.5,165.0 460.5,180.0 463.5,183.0 468.5,183.0 471.5,195.0 474.5,186.0 476.5,195.0 481.5,201.0 484.5,201.0 487.5,207.0 489.5,204.0 495.5,213.0 497.5,213.0 502.5,204.0 502.5,201.0 505.5,204.0 508.5,189.0 510.5,177.0 516.5,183.0 518.5,171.0 521.5,162.0 523.5,156.0 529.5,156.0 531.5,159.0 534.5,156.0 537.5,156.0 539.5,165.0 542.5,159.0 544.5,153.0 547.5,141.0 552.5,138.0 555.5,129.0 563.5,129.0 573.5,117.0 578.5,111.0 581.5,108.0 584.5,111.0 592.5,111.0 597.5,102.0 599.5,102.0 605.5,114.0 610.5,132.0 615.5,144.0 618.5,150.0 620.5,159.0 623.5,168.0 626.5,171.0 631.5,174.0 634.5,174.0 636.5,183.0 641.5,186.0 644.5,192.0 647.5,201.0 649.5,210.0 655.5,210.0 657.5,213.0 660.5,216.0 665.5,216.0 668.5,219.0 670.5,216.0 678.5,216.0 683.5,213.0 686.5,207.0 691.5,207.0 697.5,201.0 702.5,198.0 707.5,192.0 710.5,192.0 712.5,189.0 715.5,189.0 718.5,192.0 728.5,192.0 731.5,189.0 736.5,189.0 739.5,186.0 741.5,186.0 744.5,180.0 746.5,168.0 749.5,162.0 754.5,159.0 757.5,153.0 762.5,147.0 767.5,147.0 770.5,153.0 775.5,159.0 781.5,165.0 783.5,171.0 794.5,171.0 796.5,168.0 799.5,168.0 802.5,165.0 804.5,168.0 807.5,168.0 809.5,171.0 815.5,171.0 817.5,180.0 820.5,183.0 823.5,183.0" fill="none" stroke="#8c00d2" stroke-width="1" shape-rendering="crispEdges"/>
<polyline transform="translate(0,-1)" points="70.5,251.0 72.5,251.5 77.5,253.5 85.5,253.5 88.5,249.3 93.5,249.3 96.5,250.5 98.5,249.0 104.5,246.8 109.5,246.0 114.5,238.5 117.5,236.8 119.5,239.3 122.5,239.3 125.5,237.3 127.5,234.0 132.5,231.0 135.5,230.2 138.5,233.5 140.5,236.0 148.5,242.7 148.5,241.3 156.5,235.2 159.5,234.0 161.5,235.7 164.5,234.0 169.5,228.2 174.5,230.7 177.5,233.5 180.5,238.0 185.5,238.5 190.5,241.3 195.5,243.5 201.5,246.0 206.5,246.0 211.5,241.8 216.5,231.8 219.5,228.4 222.5,225.3 227.5,224.2 232.5,218.3 235.5,219.7 240.5,228.0 245.5,233.7 253.5,238.3 256.5,240.0 261.5,240.0 264.5,233.3 269.5,224.7 274.5,216.3 279.5,211.7 285.5,209.2 287.5,210.0 293.5,210.0 300.5,202.5 306.5,201.3 311.5,201.3 316.5,202.5 321.5,197.5 324.5,191.7 324.5,186.7 327.5,180.0 329.5,175.8 332.5,172.0 334.5,173.0 337.5,176.7 345.5,177.5 345.5,178.7 350.5,175.8 353.5,177.0 358.5,180.0 363.5,178.7 366.5,179.7 369.5,183.5 374.5,190.8 382.5,190.8 387.5,198.3 390.5,200.8 395.5,208.7 397.5,208.0 403.5,207.5 405.5,214.2 408.5,213.7 413.5,207.5 418.5,205.8 421.5,201.7 424.5,195.0 426.5,185.0 429.5,171.7 432.5,160.0 434.5,155.0 439.5,144.2 442.5,149.5 445.5,156.0 447.5,153.0 450.5,149.5 453.5,146.5 458.5,141.7 460.5,135.0 466.5,130.8 474.5,123.3 479.5,122.5 487.5,116.7 492.5,114.2 500.5,113.3 505.5,108.0 510.5,109.5 516.5,118.3 521.5,121.7 523.5,127.5 529.5,124.2 531.5,127.0 537.5,130.0 539.5,129.2 542.5,131.3 547.5,137.5 552.5,139.2 558.5,147.5 560.5,151.7 565.5,155.0 573.5,160.8 581.5,165.3 586.5,166.3 592.5,172.5 599.5,176.3 605.5,172.0 607.5,167.5 615.5,162.5 620.5,159.2 626.5,154.7 631.5,153.5 634.5,154.0 641.5,150.8 644.5,147.5 649.5,142.0 657.5,141.3 662.5,138.3 670.5,134.2 676.5,136.7 683.5,139.7 689.5,135.8 694.5,131.3 702.5,131.3 707.5,133.3 715.5,129.7 720.5,127.5 725.5,127.5 728.5,129.2 733.5,128.3 739.5,130.8 744.5,134.2 746.5,140.0 752.5,150.0 754.5,160.0 760.5,165.8 762.5,168.3 767.5,165.8 770.5,159.7 775.5,155.0 781.5,148.3 786.5,142.3 788.5,142.2 794.5,143.1 796.5,143.1 802.5,145.6 804.5,143.8 809.5,141.9 812.5,143.8 815.5,142.5 817.5,137.5 820.5,136.2 823.5,135.0" fill="none" stroke="#ff0000" stroke-width="1" shape-rendering="crispEdges"/>
<polyline transform="translate(0,0)" points="70.5,251.0 72.5,251.5 77.5,253.5 85.5,253.5 88.5,249.3 93.5,249.3 96.5,250.5 98.5,249.0 104.5,246.8 109.5,246.0 114.5,238.5 117.5,236.8 119.5,239.3 122.5,239.3 125.5,237.3 127.5,234.0 132.5,231.0 135.5,230.2 138.5,233.5 140.5,236.0 148.5,242.7 148.5,241.3 156.5,235.2 159.5,234.0 161.5,235.7 164.5,234.0 169.5,228.2 174.5,230.7 177.5,233.5 180.5,238.0 185.5,238.5 190.5,241.3 195.5,243.5 201.5,246.0 206.5,246.0 211.5,241.8 216.5,231.8 219.5,228.4 222.5,225.3 227.5,224.2 232.5,218.3 235.5,219.7 240.5,228.0 245.5,233.7 253.5,238.3 256.5,240.0 261.5,240.0 264.5,233.3 269.5,224.7 274.5,216.3 279.5,211.7 285.5,209.2 287.5,210.0 293.5,210.0 300.5,202.5 306.5,201.3 311.5,201.3 316.5,202.5 321.5,197.5 324.5,191.7 324.5,186.7 327.5,180.0 329.5,175.8 332.5,172.0 334.5,173.0 337.5,176.7 345.5,177.5 345.5,178.7 350.5,175.8 353.5,177.0 358.5,180.0 363.5,178.7 366.5,179.7 369.5,183.5 374.5,190.8 382.5,190.8 387.5,198.3 390.5,200.8 395.5,208.7 397.5,208.0 403.5,207.5 405.5,214.2 408.5,213.7 413.5,207.5 418.5,205.8 421.5,201.7 424.5,195.0 426.5,185.0 429.5,171.7 432.5,160.0 434.5,155.0 439.5,144.2 442.5,149.5 445.5,156.0 447.5,153.0 450.5,149.5 453.5,146.5 458.5,141.7 460.5,135.0 466.5,130.8 474.5,123.3 479.5,122.5 487.5,116.7 492.5,114.2 500.5,113.3 505.5,108.0 510.5,109.5 516.5,118.3 521.5,121.7 523.5,127.5 529.5,124.2 531.5,127.0 537.5,130.0 539.5,129.2 542.5,131.3 547.5,137.5 552.5,139.2 558.5,147.5 560.5,151.7 565.5,155.0 573.5,160.8 581.5,165.3 586.5,166.3 592.5,172.5 599.5,176.3 605.5,172.0 607.5,167.5 615.5,162.5 620.5,159.2 626.5,154.7 631.5,153.5 634.5,154.0 641.5,150.8 644.5,147.5 649.5,142.0 657.5,141.3 662.5,138.3 670.5,134.2 676.5,136.7 683.5,139.7 689.5,135.8 694.5,131.3 702.5,131.3 707.5,133.3 715.5,129.7 720.5,127.5 725.5,127.5 728.5,129.2 733.5,128.3 739.5,130.8 744.5,134.2 746.5,140.0 752.5,150.0 754.5,160.0 760.5,165.8 762.5,168.3 767.5,165.8 770.5,159.7 775.5,155.0 781.5,148.3 786.5,142.3 788.5,142.2 794.5,143.1 796.5,143.1 802.5,145.6 804.5,143.8 809.5,141.9 812.5,143.8 815.5,142.5 817.5,137.5 820.5,136.2 823.5,135.0" fill="none" stroke="#ff0000" stroke-width="1" shape-rendering="crispEdges"/>
<polyline transform="translate(0,1)" points="70.5,251.0 72.5,251.5 77.5,253.5 85.5,253.5 88.5,249.3 93.5,249.3 96.5,250.5 98.5,249.0 104.5,246.8 109.5,246.0 114.5,238.5 117.5,236.8 119.5,239.3 122.5,239.3 125.5,237.3 127.5,234.0 132.5,231.0 135.5,230.2 138.5,233.5 140.5,236.0 148.5,242.7 148.5,241.3 156.5,235.2 159.5,234.0 161.5,235.7 164.5,234.0 169.5,228.2 174.5,230.7 177.5,233.5 180.5,238.0 185.5,238.5 190.5,241.3 195.5,243.5 201.5,246.0 206.5,246.0 211.5,241.8 216.5,231.8 219.5,228.4 222.5,225.3 227.5,224.2 232.5,218.3 235.5,219.7 240.5,228.0 245.5,233.7 253.5,238.3 256.5,240.0 261.5,240.0 264.5,233.3 269.5,224.7 274.5,216.3 279.5,211.7 285.5,209.2 287.5,210.0 293.5,210.0 300.5,202.5 306.5,201.3 311.5,201.3 316.5,202.5 321.5,197.5 324.5,191.7 324.5,186.7 327.5,180.0 329.5,175.8 332.5,172.0 334.5,173.0 337.5,176.7 345.5,177.5 345.5,178.7 350.5,175.8 353.5,177.0 358.5,180.0 363.5,178.7 366.5,179.7 369.5,183.5 374.5,190.8 382.5,190.8 387.5,198.3 390.5,200.8 395.5,208.7 397.5,208.0 403.5,207.5 405.5,214.2 408.5,213.7 413.5,207.5 418.5,205.8 421.5,201.7 424.5,195.0 426.5,185.0 429.5,171.7 432.5,160.0 434.5,155.0 439.5,144.2 442.5,149.5 445.5,156.0 447.5,153.0 450.5,149.5 453.5,146.5 458.5,141.7 460.5,135.0 466.5,130.8 474.5,123.3 479.5,122.5 487.5,116.7 492.5,114.2 500.5,113.3 505.5,108.0 510.5,109.5 516.5,118.3 521.5,121.7 523.5,127.5 529.5,124.2 531.5,127.0 537.5,130.0 539.5,129.2 542.5,131.3 547.5,137.5 552.5,139.2 558.5,147.5 560.5,151.7 565.5,155.0 573.5,160.8 581.5,165.3 586.5,166.3 592.5,172.5 599.5,176.3 605.5,172.0 607.5,167.5 615.5,162.5 620.5,159.2 626.5,154.7 631.5,153.5 634.5,154.0 641.5,150.8 644.5,147.5 649.5,142.0 657.5,141.3 662.5,138.3 670.5,134.2 676.5,136.7 683.5,139.7 689.5,135.8 694.5,131.3 702.5,131.3 707.5,133.3 715.5,129.7 720.5,127.5 725.5,127.5 728.5,129.2 733.5,128.3 739.5,130.8 744.5,134.2 746.5,140.0 752.5,150.0 754.5,160.0 760.5,165.8 762.5,168.3 767.5,165.8 770.5,159.7 775.5,155.0 781.5,148.3 786.5,142.3 788.5,142.2 794.5,143.1 796.5,143.1 802.5,145.6 804.5,143.8 809.5,141.9 812.5,143.8 815.5,142.5 817.5,137.5 820.5,136.2 823.5,135.0" fill="none" stroke="#ff0000" stroke-width="1" shape-rendering="crispEdges"/>
<polyline transform="translate(0,0)" points="70.5,365.5 72.5,365.5 75.5,365.5 77.5,365.5 80.5,365.5 83.5,365.5 85.5,365.5 88.5,365.5 90.5,365.5 93.5,365.5 96.5,365.5 98.5,365.5 101.5,365.5 104.5,365.5 106.5,365.5 109.5,365.5 111.5,365.5 114.5,365.5 117.5,365.5 119.5,365.5 122.5,365.5 125.5,365.5 127.5,365.5 130.5,365.5 132.5,365.5 135.5,365.5 138.5,365.5 140.5,365.5 143.5,365.5 146.5,365.5 148.5,365.5 151.5,365.5 153.5,365.5 156.5,365.5 159.5,365.5 161.5,365.5 164.5,365.5 167.5,365.5 169.5,365.5 172.5,365.5 174.5,365.5 177.5,365.5 180.5,365.5 182.5,365.5 185.5,365.5 188.5,365.5 190.5,365.5 193.5,365.5 195.5,365.5 198.5,365.5 201.5,365.5 203.5,365.5 206.5,365.5 209.5,365.5 211.5,365.5 214.5,365.5 216.5,365.5 219.5,365.5 222.5,365.5 224.5,365.5 227.5,365.5 230.5,365.5 232.5,365.5 235.5,365.5 237.5,365.5 240.5,365.5 243.5,365.5 245.5,365.5 248.5,365.5 251.5,365.5 253.5,365.5 256.5,365.5 258.5,365.5 261.5,365.5 264.5,365.5 266.5,365.5 269.5,365.5 272.5,365.5 274.5,365.5 277.5,365.5 279.5,365.5 282.5,365.5 285.5,365.5 287.5,365.5 290.5,365.5 293.5,365.5 295.5,365.5 298.5,335.5 300.5,365.5 303.5,365.5 306.5,365.5 308.5,365.5 311.5,365.5 314.5,365.5 316.5,365.5 319.5,365.5 321.5,365.5 324.5,335.5 327.5,335.5 329.5,365.5 332.5,365.5 334.5,365.5 337.5,335.5 340.5,335.5 342.5,365.5 345.5,365.5 348.5,365.5 350.5,365.5 353.5,335.5 355.5,335.5 358.5,335.5 361.5,365.5 363.5,365.5 366.5,365.5 369.5,365.5 371.5,365.5 374.5,365.5 376.5,365.5 379.5,365.5 382.5,365.5 384.5,365.5 387.5,365.5 390.5,327.5 392.5,301.5 395.5,257.5 397.5,290.5 400.5,325.5 403.5,365.5 405.5,365.5 408.5,365.5 411.5,365.5 413.5,365.5 416.5,365.5 418.5,365.5 421.5,365.5 424.5,335.5 426.5,335.5 429.5,365.5 432.5,365.5 434.5,365.5 437.5,365.5 439.5,365.5 442.5,365.5 445.5,365.5 447.5,365.5 450.5,365.5 453.5,365.5 455.5,365.5 458.5,365.5 460.5,329.5 463.5,311.5 466.5,311.5 468.5,311.5 471.5,311.5 474.5,335.5 476.5,335.5 479.5,335.5 481.5,335.5 484.5,335.5 487.5,335.5 489.5,365.5 492.5,365.5 495.5,365.5 497.5,365.5 500.5,365.5 502.5,365.5 505.5,365.5 508.5,365.5 510.5,365.5 513.5,365.5 516.5,365.5 518.5,365.5 521.5,365.5 523.5,365.5 526.5,365.5 529.5,365.5 531.5,365.5 534.5,365.5 537.5,365.5 539.5,365.5 542.5,365.5 544.5,365.5 547.5,365.5 550.5,365.5 552.5,365.5 555.5,365.5 558.5,365.5 560.5,365.5 563.5,365.5 565.5,365.5 568.5,365.5 571.5,365.5 573.5,365.5 576.5,365.5 578.5,365.5 581.5,365.5 584.5,365.5 586.5,365.5 589.5,365.5 592.5,365.5 594.5,365.5 597.5,365.5 599.5,365.5 602.5,365.5 605.5,365.5 607.5,365.5 610.5,365.5 613.5,365.5 615.5,365.5 618.5,365.5 620.5,365.5 623.5,365.5 626.5,365.5 628.5,365.5 631.5,365.5 634.5,365.5 636.5,365.5 639.5,365.5 641.5,365.5 644.5,365.5 647.5,365.5 649.5,365.5 652.5,365.5 655.5,365.5 657.5,365.5 660.5,365.5 662.5,365.5 665.5,365.5 668.5,365.5 670.5,365.5 673.5,365.5 676.5,365.5 678.5,365.5 681.5,365.5 683.5,365.5 686.5,365.5 689.5,365.5 691.5,365.5 694.5,365.5 697.5,365.5 699.5,365.5 702.5,365.5 704.5,365.5 707.5,365.5 710.5,365.5 712.5,365.5 715.5,365.5 718.5,365.5 720.5,365.5 723.5,365.5 725.5,335.5 728.5,335.5 731.5,365.5 733.5,365.5 736.5,365.5 739.5,365.5 741.5,365.5 744.5,311.5 746.5,317.5 749.5,341.5 752.5,365.5 754.5,365.5 757.5,365.5 760.5,365.5 762.5,365.5 765.5,365.5 767.5,365.5 770.5,365.5 773.5,365.5 775.5,365.5 778.5,365.5 781.5,365.5 783.5,365.5 786.5,365.5 788.5,365.5 791.5,365.5 794.5,365.5 796.5,365.5 799.5,365.5 802.5,335.5 804.5,335.5 807.5,335.5 809.5,365.5 812.5,353.5 815.5,327.5 817.5,305.5 820.5,281.5 823.5,281.5" fill="none" stroke="#000" stroke-width="1" shape-rendering="crispEdges"/>
<polyline transform="translate(0,1)" points="70.5,365.5 72.5,365.5 75.5,365.5 77.5,365.5 80.5,365.5 83.5,365.5 85.5,365.5 88.5,365.5 90.5,365.5 93.5,365.5 96.5,365.5 98.5,365.5 101.5,365.5 104.5,365.5 106.5,365.5 109.5,365.5 111.5,365.5 114.5,365.5 117.5,365.5 119.5,365.5 122.5,365.5 125.5,365.5 127.5,365.5 130.5,365.5 132.5,365.5 135.5,365.5 138.5,365.5 140.5,365.5 143.5,365.5 146.5,365.5 148.5,365.5 151.5,365.5 153.5,365.5 156.5,365.5 159.5,365.5 161.5,365.5 164.5,365.5 167.5,365.5 169.5,365.5 172.5,365.5 174.5,365.5 177.5,365.5 180.5,365.5 182.5,365.5 185.5,365.5 188.5,365.5 190.5,365.5 193.5,365.5 195.5,365.5 198.5,365.5 201.5,365.5 203.5,365.5 206.5,365.5 209.5,365.5 211.5,365.5 214.5,365.5 216.5,365.5 219.5,365.5 222.5,365.5 224.5,365.5 227.5,365.5 230.5,365.5 232.5,365.5 235.5,365.5 237.5,365.5 240.5,365.5 243.5,365.5 245.5,365.5 248.5,365.5 251.5,365.5 253.5,365.5 256.5,365.5 258.5,365.5 261.5,365.5 264.5,365.5 266.5,365.5 269.5,365.5 272.5,365.5 274.5,365.5 277.5,365.5 279.5,365.5 282.5,365.5 285.5,365.5 287.5,365.5 290.5,365.5 293.5,365.5 295.5,365.5 298.5,335.5 300.5,365.5 303.5,365.5 306.5,365.5 308.5,365.5 311.5,365.5 314.5,365.5 316.5,365.5 319.5,365.5 321.5,365.5 324.5,335.5 327.5,335.5 329.5,365.5 332.5,365.5 334.5,365.5 337.5,335.5 340.5,335.5 342.5,365.5 345.5,365.5 348.5,365.5 350.5,365.5 353.5,335.5 355.5,335.5 358.5,335.5 361.5,365.5 363.5,365.5 366.5,365.5 369.5,365.5 371.5,365.5 374.5,365.5 376.5,365.5 379.5,365.5 382.5,365.5 384.5,365.5 387.5,365.5 390.5,327.5 392.5,301.5 395.5,257.5 397.5,290.5 400.5,325.5 403.5,365.5 405.5,365.5 408.5,365.5 411.5,365.5 413.5,365.5 416.5,365.5 418.5,365.5 421.5,365.5 424.5,335.5 426.5,335.5 429.5,365.5 432.5,365.5 434.5,365.5 437.5,365.5 439.5,365.5 442.5,365.5 445.5,365.5 447.5,365.5 450.5,365.5 453.5,365.5 455.5,365.5 458.5,365.5 460.5,329.5 463.5,311.5 466.5,311.5 468.5,311.5 471.5,311.5 474.5,335.5 476.5,335.5 479.5,335.5 481.5,335.5 484.5,335.5 487.5,335.5 489.5,365.5 492.5,365.5 495.5,365.5 497.5,365.5 500.5,365.5 502.5,365.5 505.5,365.5 508.5,365.5 510.5,365.5 513.5,365.5 516.5,365.5 518.5,365.5 521.5,365.5 523.5,365.5 526.5,365.5 529.5,365.5 531.5,365.5 534.5,365.5 537.5,365.5 539.5,365.5 542.5,365.5 544.5,365.5 547.5,365.5 550.5,365.5 552.5,365.5 555.5,365.5 558.5,365.5 560.5,365.5 563.5,365.5 565.5,365.5 568.5,365.5 571.5,365.5 573.5,365.5 576.5,365.5 578.5,365.5 581.5,365.5 584.5,365.5 586.5,365.5 589.5,365.5 592.5,365.5 594.5,365.5 597.5,365.5 599.5,365.5 602.5,365.5 605.5,365.5 607.5,365.5 610.5,365.5 613.5,365.5 615.5,365.5 618.5,365.5 620.5,365.5 623.5,365.5 626.5,365.5 628.5,365.5 631.5,365.5 634.5,365.5 636.5,365.5 639.5,365.5 641.5,365.5 644.5,365.5 647.5,365.5 649.5,365.5 652.5,365.5 655.5,365.5 657.5,365.5 660.5,365.5 662.5,365.5 665.5,365.5 668.5,365.5 670.5,365.5 673.5,365.5 676.5,365.5 678.5,365.5 681.5,365.5 683.5,365.5 686.5,365.5 689.5,365.5 691.5,365.5 694.5,365.5 697.5,365.5 699.5,365.5 702.5,365.5 704.5,365.5 707.5,365.5 710.5,365.5 712.5,365.5 715.5,365.5 718.5,365.5 720.5,365.5 723.5,365.5 725.5,335.5 728.5,335.5 731.5,365.5 733.5,365.5 736.5,365.5 739.5,365.5 741.5,365.5 744.5,311.5 746.5,317.5 749.5,341.5 752.5,365.5 754.5,365.5 757.5,365.5 760.5,365.5 762.5,365.5 765.5,365.5 767.5,365.5 770.5,365.5 773.5,365.5 775.5,365.5 778.5,365.5 781.5,365.5 783.5,365.5 786.5,365.5 788.5,365.5 791.5,365.5 794.5,365.5 796.5,365.5 799.5,365.5 802.5,335.5 804.5,335.5 807.5,335.5 809.5,365.5 812.5,353.5 815.5,327.5 817.5,305.5 820.5,281.5 823.5,281.5" fill="none" stroke="#000" stroke-width="1" shape-rendering="crispEdges"/>
<rect x="70" y="365" width="753" height="1" fill="#000"/>
<circle cx="319.5" cy="360.1" r="4.3" fill="#fff" stroke="#000" stroke-width="1.1" stroke-dasharray="2.6 0.8"/>
<ellipse cx="319.5" cy="360.4" rx="2.9" ry="3.4" fill="#ffff00"/>
<circle cx="594.5" cy="360.1" r="4.3" fill="#fff" stroke="#000" stroke-width="1.1" stroke-dasharray="2.6 0.8"/>
<ellipse cx="594.5" cy="360.4" rx="2.9" ry="3.4" fill="#ffff00"/>
<circle cx="385.3" cy="360.3" r="3.6" fill="#000"/>
<circle cx="748.6" cy="360.3" r="3.6" fill="#000"/>
<path d="M379.5,354 V365 M377.5,362.5 L379.5,365 L381.5,362.5" stroke="#000" stroke-width="1" fill="none"/>
<path d="M754.5,354 V365 M752.5,356.5 L754.5,354 L756.5,356.5" stroke="#000" stroke-width="1" fill="none"/>
</svg>
</body></html>
